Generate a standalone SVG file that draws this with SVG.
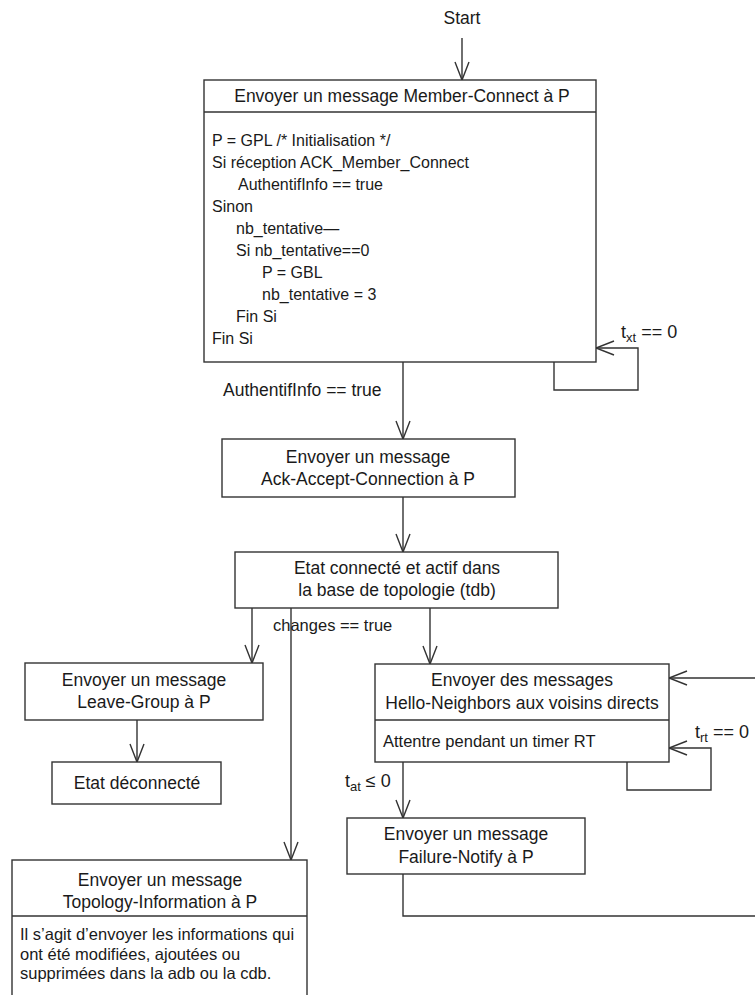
<svg xmlns="http://www.w3.org/2000/svg" width="755" height="995" viewBox="0 0 755 995">
<style>
.box{fill:#fff;stroke:#333;stroke-width:1.4}
.ln{fill:none;stroke:#333;stroke-width:1.4}
text{font-family:"Liberation Sans",Arial,sans-serif;fill:#1a1a1a}
.t{font-size:17.5px;text-anchor:middle}
.b{font-size:16px}
.bb{font-size:16.5px}
.l{font-size:16.5px}
.s{font-size:18px}
</style>
<defs>
<marker id="arr" markerUnits="userSpaceOnUse" markerWidth="22" markerHeight="18" viewBox="-20 -9 22 18" refX="0" refY="0" orient="auto" overflow="visible">
<path d="M-18,-7 L0,0 L-18,7" fill="none" stroke="#333" stroke-width="1.4"/>
</marker>
</defs>
<rect width="755" height="995" fill="#fff"/>
<g id="connectors">
<path class="ln" d="M462,38 V80" marker-end="url(#arr)"/>
<path class="ln" d="M554,362 V390 H638 V348 H596" marker-end="url(#arr)"/>
<path class="ln" d="M403,362 V439" marker-end="url(#arr)"/>
<path class="ln" d="M403,497 V552" marker-end="url(#arr)"/>
<path class="ln" d="M252,608 V663" marker-end="url(#arr)"/>
<path class="ln" d="M137,720 V762" marker-end="url(#arr)"/>
<path class="ln" d="M291,608 V860" marker-end="url(#arr)"/>
<path class="ln" d="M430,608 V664" marker-end="url(#arr)"/>
<path class="ln" d="M627,762 V790 H711 V748 H669" marker-end="url(#arr)"/>
<path class="ln" d="M403,762 V818" marker-end="url(#arr)"/>
<path class="ln" d="M403,874 V916 H762 V678 H669" marker-end="url(#arr)"/>
<text class="l" x="223" y="396" style="font-size:17.5px">AuthentifInfo == true</text>
<text class="l" x="273" y="631">changes == true</text>
<text class="s" x="621" y="338">t<tspan font-size="13" dy="4">xt</tspan><tspan dy="-4"> == 0</tspan></text>
<text class="s" x="695" y="738">t<tspan font-size="13" dy="4">rt</tspan><tspan dy="-4"> == 0</tspan></text>
<text class="s" x="345" y="787">t<tspan font-size="13" dy="4">at</tspan><tspan dy="-4"> ≤ 0</tspan></text>
</g>
<g id="start"><text class="t" x="462" y="24">Start</text></g>
<g id="member-connect">
<rect class="box" x="204" y="80" width="392" height="282"/>
<line class="ln" x1="204" y1="112" x2="596" y2="112"/>
<text class="t" x="402" y="102">Envoyer un message Member-Connect à P</text>
<text class="b" x="212" y="146">P = GPL /* Initialisation */</text>
<text class="b" x="212" y="168">Si réception ACK_Member_Connect</text>
<text class="b" x="238" y="190">AuthentifInfo == true</text>
<text class="b" x="212" y="212">Sinon</text>
<text class="b" x="236" y="234">nb_tentative—</text>
<text class="b" x="236" y="256">Si nb_tentative==0</text>
<text class="b" x="262" y="278">P = GBL</text>
<text class="b" x="262" y="300">nb_tentative = 3</text>
<text class="b" x="236" y="322">Fin Si</text>
<text class="b" x="212" y="344">Fin Si</text>
</g>
<g id="ack-accept">
<rect class="box" x="222" y="439" width="293" height="58"/>
<text class="t" x="368" y="463">Envoyer un message</text>
<text class="t" x="368" y="485">Ack-Accept-Connection à P</text>
</g>
<g id="connected">
<rect class="box" x="235" y="552" width="323" height="56"/>
<text class="t" x="397" y="574">Etat connecté et actif dans</text>
<text class="t" x="397" y="596">la base de topologie (tdb)</text>
</g>
<g id="leave-group">
<rect class="box" x="25" y="663" width="238" height="57"/>
<text class="t" x="144" y="686">Envoyer un message</text>
<text class="t" x="144" y="708">Leave-Group à P</text>
</g>
<g id="disconnected">
<rect class="box" x="52" y="762" width="169" height="42"/>
<text class="t" x="137" y="789">Etat déconnecté</text>
</g>
<g id="topology">
<rect class="box" x="12" y="860" width="295" height="160"/>
<line class="ln" x1="12" y1="916" x2="307" y2="916"/>
<text class="t" x="160" y="886">Envoyer un message</text>
<text class="t" x="160" y="908">Topology-Information à P</text>
<text class="bb" x="20" y="940">Il s’agit d’envoyer les informations qui</text>
<text class="bb" x="20" y="960">ont été modifiées, ajoutées ou</text>
<text class="bb" x="20" y="979">supprimées dans la adb ou la cdb.</text>
</g>
<g id="hello">
<rect class="box" x="375" y="664" width="294" height="98"/>
<line class="ln" x1="375" y1="720" x2="669" y2="720"/>
<text class="t" x="522" y="686">Envoyer des messages</text>
<text class="t" x="522" y="709">Hello-Neighbors aux voisins directs</text>
<text class="bb" x="383" y="747">Attentre pendant un timer RT</text>
</g>
<g id="failure">
<rect class="box" x="347" y="818" width="238" height="56"/>
<text class="t" x="466" y="840">Envoyer un message</text>
<text class="t" x="466" y="863">Failure-Notify à P</text>
</g>
</svg>
